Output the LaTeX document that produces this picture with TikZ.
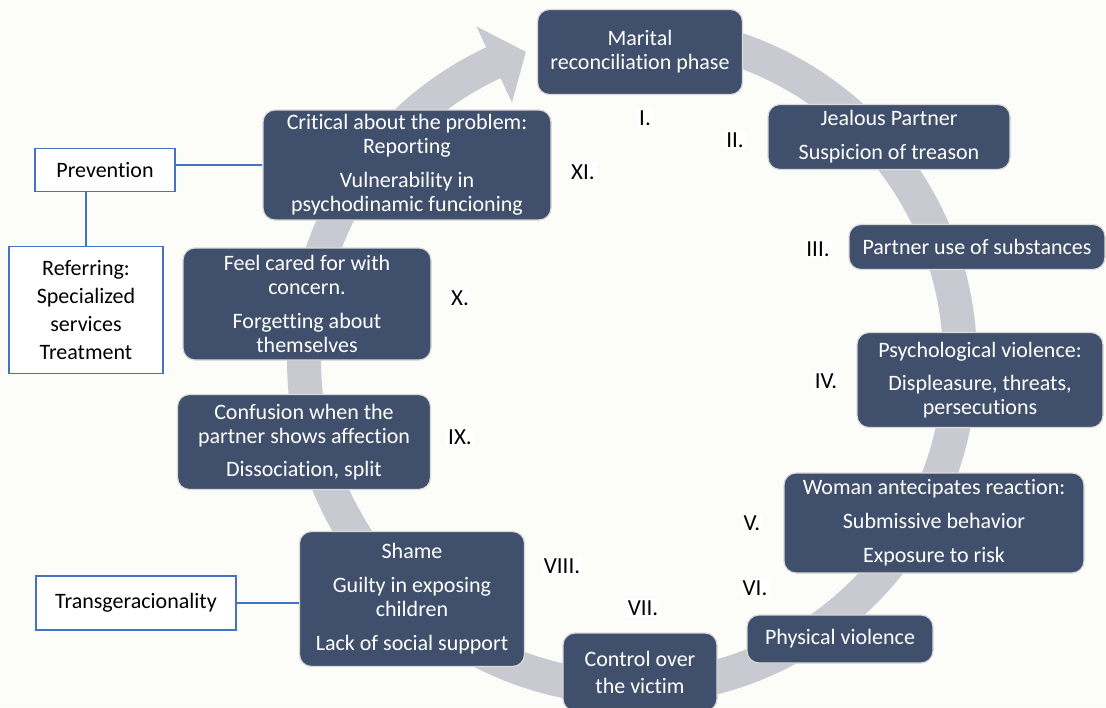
\documentclass[tikz,border=0pt]{standalone}
\usepackage{fontspec}
\setmainfont[Ligatures=NoCommon]{Carlito}
\usetikzlibrary{calc}
\definecolor{phaseblue}{RGB}{64,80,108}
\definecolor{ringgray}{RGB}{201,202,209}
\definecolor{linkblue}{RGB}{68,114,196}
\definecolor{paper}{RGB}{252,252,249}

\begin{document}
\begin{tikzpicture}[x=1pt, y=-1pt,
        phase/.style={draw=white!85!black, line width=1.2pt, fill=phaseblue, rounded corners=12pt, text=white, align=center, inner sep=2pt, font=\fontsize{22}{24}\selectfont},
        num/.style={fill=white, inner sep=2pt, font=\fontsize{23}{24}\selectfont},
        side/.style={draw=linkblue, line width=1.6pt, fill=white, align=center, font=\fontsize{22}{28}\selectfont},
        link/.style={draw=linkblue, line width=1.4pt}
    ]
    % Page
    \clip (0,0) rectangle (1106,707);
    \fill[paper] (0,0) rectangle (1106,707);

    % Cycle ring with head
    \coordinate (ctr) at (632, 360);
    \draw[ringgray, line width=34pt] ($(ctr)+(270:328)$) arc (270:606:328);
    \fill[ringgray] ($(ctr)+(245:368)$) -- ($(ctr)+(251:326)$) -- ($(ctr)+(245:284)$) -- cycle;

    % Phases
    \node[phase, minimum width=205pt, minimum height=85pt] (p1) at (640, 52) {Marital\\reconciliation phase};
    \node[phase, minimum width=242pt, minimum height=65pt] (p2) at (889, 137) {Jealous Partner\\[10pt]Suspicion of treason};
    \node[phase, minimum width=256pt, minimum height=45pt] (p3) at (977, 247) {Partner use of substances};
    \node[phase, minimum width=246pt, minimum height=95pt] (p4) at (980, 380) {Psychological violence:\\[9pt]Displeasure, threats,\\persecutions};
    \node[phase, minimum width=300pt, minimum height=100pt] (p5) at (934, 523) {Woman antecipates reaction:\\[10pt]Submissive behavior\\[10pt]Exposure to risk};
    \node[phase, minimum width=186pt, minimum height=48pt] (p6) at (840, 639) {Physical violence};
    \node[phase, minimum width=154pt, minimum height=78pt] (p7) at (640, 672) {Control over\\[3pt]the victim};
    \node[phase, minimum width=225pt, minimum height=135pt] (p8) at (412, 599) {Shame\\[10pt]Guilty in exposing\\children\\[10pt]Lack of social support};
    \node[phase, minimum width=253pt, minimum height=95pt] (p9) at (304, 442) {Confusion when the\\partner shows affection\\[9pt]Dissociation, split};
    \node[phase, minimum width=248pt, minimum height=112pt] (p10) at (307, 304) {Feel cared for with\\concern.\\[10pt]Forgetting about\\themselves};
    \node[phase, minimum width=288pt, minimum height=110pt] (p11) at (407, 165) {Critical about the problem:\\Reporting\\[10pt]Vulnerability in\\psychodinamic funcioning};

    % Numbers
    \node[num] (n1) at (645, 118) {I.};
    \node[num] (n2) at (735, 140) {II.};
    \node[num] (n3) at (818, 249) {III.};
    \node[num] (n4) at (826, 381) {IV.};
    \node[num] (n5) at (752, 523) {V.};
    \node[num] (n6) at (755, 588) {VI.};
    \node[num] (n7) at (643, 608) {VII.};
    \node[num] (n8) at (562, 566) {VIII.};
    \node[num] (n9) at (460, 437) {IX.};
    \node[num] (n10) at (460, 298) {X.};
    \node[num] (n11) at (583, 172) {XI.};

    % Side boxes
    \node[side, minimum width=140pt, minimum height=43pt] (prev) at (105, 170) {Prevention};
    \node[side, minimum width=154pt, minimum height=127pt] (refer) at (86, 310) {Referring:\\Specialized\\services\\Treatment};
    \node[side, minimum width=200pt, minimum height=54pt] (trans) at (136, 603) {Transgeracionality};

    \draw[link] (p11.west) -- (p11.west -| prev.east);
    \draw[link] (refer.north) -- (refer.north |- prev.south);
    \draw[link] (trans.east) -- (trans.east -| p8.west);
\end{tikzpicture}
\end{document}
